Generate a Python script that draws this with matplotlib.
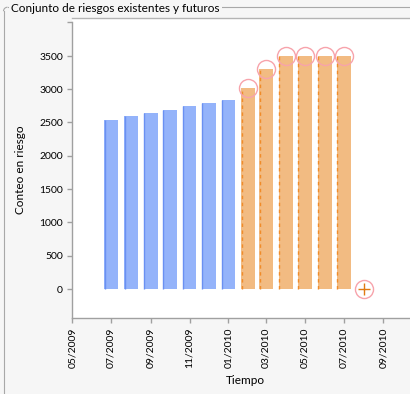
import matplotlib
matplotlib.use('Agg')
import matplotlib.pyplot as plt
import matplotlib.dates as mdates
from matplotlib.lines import Line2D
from matplotlib.patches import Arc
from datetime import datetime
import numpy as np

# ---- data ----
existing_months = ['2009-07', '2009-08', '2009-09', '2009-10', '2009-11', '2009-12', '2010-01']
existing_values = [2540, 2600, 2645, 2690, 2750, 2795, 2840]
future_months = ['2010-02', '2010-03', '2010-04', '2010-05', '2010-06', '2010-07']
future_values = [3020, 3300, 3500, 3500, 3500, 3500]
extra_month = ['2010-08']
extra_value = [0]
x_tick_months = ['2009-05', '2009-07', '2009-09', '2009-11', '2010-01',
                 '2010-03', '2010-05', '2010-07', '2010-09']
y_ticks = [0, 500, 1000, 1500, 2000, 2500, 3000, 3500, 4000]
y_tick_labels = ['0', '500', '1000', '1500', '2000', '2500', '3000', '3500', '']

title = 'Conjunto de riesgos existentes y futuros'
xlabel = 'Tiempo'
ylabel = 'Conteo en riesgo'

def to_num(ms):
    return np.array([mdates.date2num(datetime.strptime(m, '%Y-%m')) for m in ms])

plt.rcParams['font.family'] = ['Lato', 'DejaVu Sans']

W, H = 410, 394
BG = '#f6f6f6'
fig = plt.figure(figsize=((W + 0.3) / 100, (H + 0.3) / 100), dpi=100, facecolor=BG)

def fx(x):
    return x / W

def fy(y):
    return 1 - y / H

ax = fig.add_axes([fx(72), fy(318), fx(411) - fx(72), fy(18) - fy(318)])
ax.set_facecolor('white')

bw = 21.5
ex = to_num(existing_months)
fu = to_num(future_months)
xt = to_num(extra_month)

ax.bar(ex, existing_values, width=bw, color='#94b3fa', linewidth=0, zorder=2)
ax.vlines(ex - bw / 2 + 0.6, 0, existing_values, color='#6a90f2', linewidth=1.0, zorder=3)
ax.bar(fu, future_values, width=bw, color='#f2bb82', linewidth=0, zorder=2)
ax.vlines(fu - bw / 2 + 0.6, 0, future_values, color='#f08c2a', linewidth=1.0,
          linestyles=(0, (2.5, 2.5)), zorder=3)
ax.plot(fu, future_values, 'o', ms=13, mfc='none', mec='#f7a3ab', mew=1.0, zorder=4)
ax.plot(xt, extra_value, 'o', ms=13, mfc='none', mec='#f7a3ab', mew=1.0, zorder=4)
ax.plot(xt, extra_value, '+', ms=8, color='#e07a10', mew=1.0, zorder=5)

left = mdates.date2num(datetime(2009, 5, 1)) - 0.5
ax.set_xlim(left, left + 532.5)
ax.set_ylim(-436, 4071)

ax.set_xticks(to_num(x_tick_months))
ax.set_xticklabels([datetime.strptime(m, '%Y-%m').strftime('%m/%Y') for m in x_tick_months],
                   rotation=90, va='top', ha='center')
ax.set_yticks(y_ticks)
ax.set_yticklabels(y_tick_labels)

axis_col = '#a0a0a0'
ax.tick_params(axis='both', colors=axis_col, labelcolor='black', labelsize=7.5,
               length=3.6, width=1.0, pad=3)
for s in ['left', 'bottom', 'top']:
    ax.spines[s].set_color(axis_col)
    ax.spines[s].set_linewidth(1.0)
ax.spines['top'].set_color('#b4b4b4')
ax.spines['right'].set_visible(False)
ax.spines['left'].set_bounds(-436, 4000)

fig.text(fx(20), fy(170), ylabel, rotation=90, ha='center', va='center', fontsize=8.5)
fig.text(fx(245), fy(380), xlabel, ha='center', va='center', fontsize=8.5)

# group box frame
gcol = '#a8a8a8'
r = 4
fig.add_artist(Line2D([fx(3.5), fx(3.5)], [fy(7.5 + r), 0], transform=fig.transFigure,
                      color=gcol, lw=0.8))
fig.add_artist(Line2D([fx(3.5 + r), 1], [fy(7.5), fy(7.5)], transform=fig.transFigure,
                      color=gcol, lw=0.8))
fig.add_artist(Arc((fx(3.5 + r), fy(7.5 + r)), 2 * r / W, 2 * r / H, theta1=90, theta2=180,
                   transform=fig.transFigure, color=gcol, lw=0.8))
fig.text(fx(11), fy(8), title, ha='left', va='center', fontsize=8.5,
         bbox=dict(fc=BG, ec='none', pad=1.5))

fig.savefig('out.png', dpi=100, facecolor=BG)
